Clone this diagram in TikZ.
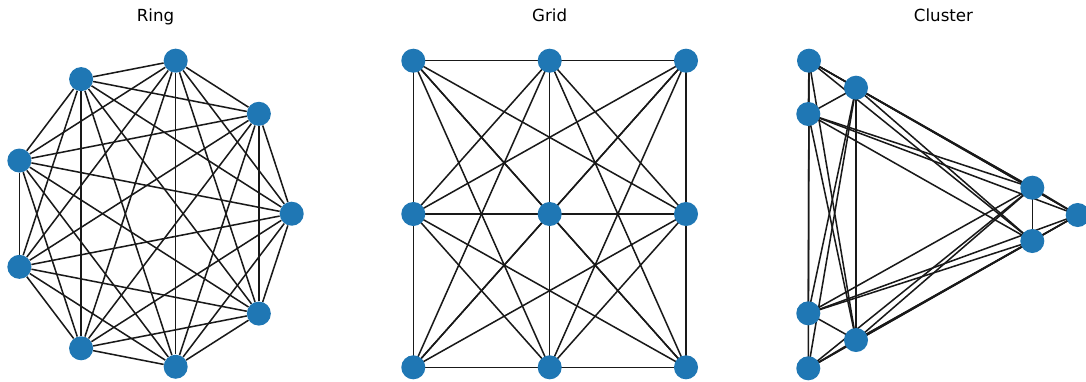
\documentclass[tikz,border=0pt]{standalone}
\usepackage{fontspec}
\setmainfont{DejaVu Sans}
\usepackage{xcolor}
\usetikzlibrary{backgrounds}
\definecolor{nodeblue}{HTML}{1F77B4}

\begin{document}
\begin{tikzpicture}[
    x=0.72pt, y=-0.72pt,
    vertex/.style={circle, fill=nodeblue, draw=none, inner sep=0pt, minimum size=17.3pt},
    edge/.style={draw=black!90, line width=1.1pt},
    title/.style={anchor=base, font=\fontsize{12pt}{14pt}\selectfont},
]
\useasboundingbox (0,0) rectangle (1086,381);

% Titles
\node[title] (tring) at (155.5,21) {Ring};
\node[title] (tgrid) at (549.7,21) {Grid};
\node[title] (tcluster) at (943.5,21) {Cluster};

% Ring
\foreach \a [count=\n] in {0,40,...,320}
  \node[vertex] (r\n) at ({151.3+140.4*cos(\a)},{213.7-155.4*sin(\a)}) {};

% Grid
\node[vertex] (g1) at (413.3,60.7) {};
\node[vertex] (g2) at (549.7,60.7) {};
\node[vertex] (g3) at (686,60.7) {};
\node[vertex] (g4) at (413.3,214) {};
\node[vertex] (g5) at (549.7,214) {};
\node[vertex] (g6) at (686,214) {};
\node[vertex] (g7) at (413.3,367.3) {};
\node[vertex] (g8) at (549.7,367.3) {};
\node[vertex] (g9) at (686,367.3) {};

% Cluster
\node[vertex] (c1) at (809,60.7) {};
\node[vertex] (c2) at (856,87.7) {};
\node[vertex] (c3) at (808.3,114) {};
\node[vertex] (c4) at (1032.3,187.7) {};
\node[vertex] (c5) at (1077.7,215) {};
\node[vertex] (c6) at (1032.3,241) {};
\node[vertex] (c7) at (808.3,313.3) {};
\node[vertex] (c8) at (856,340) {};
\node[vertex] (c9) at (808.3,368.3) {};

% Edges: every pair, behind the nodes
\begin{pgfonlayer}{background}
\foreach \i in {1,...,8} {
  \pgfmathtruncatemacro\k{\i+1}
  \foreach \j in {\k,...,9} {
    \draw[edge] (r\i) -- (r\j);
    \draw[edge] (g\i.center) -- (g\j.center);
    \draw[edge] (c\i.center) -- (c\j.center);
  }
}
\end{pgfonlayer}

\end{tikzpicture}
\end{document}
